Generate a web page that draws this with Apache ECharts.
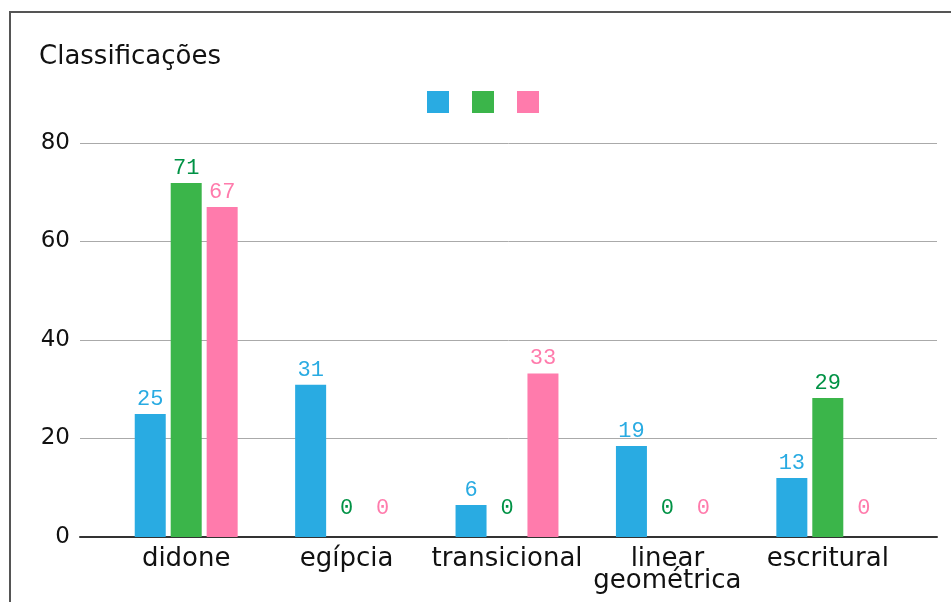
<!DOCTYPE html>
<html>
<head>
<meta charset="utf-8">
<script src="https://cdn.jsdelivr.net/npm/echarts@6/dist/echarts.min.js"></script>
<style>
  html, body { margin: 0; padding: 0; background: #fff; overflow: hidden; }
  #frame { position: absolute; left: 9px; top: 11px; width: 980px; height: 640px; border: 2px solid #555; box-sizing: border-box; }
  #chart { position: absolute; left: 0; top: 0; width: 951px; height: 602px; }
</style>
</head>
<body>
<div id="frame"></div>
<div id="chart"></div>
<script>
// categorias
var categories = ['didone', 'egípcia', 'transicional', 'linear\ngeométrica', 'escritural'];
var seriesNames = ['série 1', 'série 2', 'série 3'];
// altura das barras
var blueValues = [25, 30.9, 6.5, 18.5, 12];
var greenValues = [71.9, 0, 0, 0, 28.2];
var pinkValues = [67, 0, 33.2, 0, 0];
// rótulos mostrados sobre as barras
var blueLabels = ['25', '31', '6', '19', '13'];
var greenLabels = ['71', '0', '0', '0', '29'];
var pinkLabels = ['67', '0', '33', '0', '0'];
var yTicks = [0, 20, 40, 60, 80];

var barColors = ['#29abe2', '#3bb54a', '#ff7bac'];
var labelColors = ['#29abe2', '#009245', '#ff7bac'];

function makeSeries(idx, values, labels) {
  return {
    name: seriesNames[idx],
    type: 'bar',
    xAxisIndex: 1,
    yAxisIndex: 1,
    barWidth: 31,
    barGap: '16%',
    itemStyle: { color: barColors[idx] },
    data: values.map(function (v) {
      return {
        value: v,
        label: { distance: v === 0 ? 18 : 4 }
      };
    }),
    label: {
      show: true,
      position: 'top',
      color: labelColors[idx],
      fontFamily: '"Liberation Mono", "DejaVu Sans Mono", monospace',
      fontSize: 22,
      formatter: function (p) { return labels[p.dataIndex]; }
    }
  };
}

var chart = echarts.init(document.getElementById('chart'), null, { renderer: 'canvas' });
var option = {
  backgroundColor: 'transparent',
  animation: false,
  title: {
    text: 'Classificações',
    left: 34,
    top: 39,
    textStyle: { fontFamily: '"DejaVu Sans", sans-serif', fontSize: 26, fontWeight: 'normal', color: '#111' }
  },
  legend: {
    data: seriesNames,
    left: 422,
    top: 86,
    icon: 'rect',
    itemWidth: 22,
    itemHeight: 22,
    itemGap: 23,
    formatter: function () { return ''; }
  },
  grid: [
    { left: 80, right: 14, top: 143, bottom: 65 },
    { left: 106, right: 43, top: 143, bottom: 65 }
  ],
  xAxis: [
    {
      type: 'category',
      gridIndex: 0,
      data: [''],
      axisTick: { show: false },
      axisLabel: { show: false },
      axisLine: { show: true, lineStyle: { color: '#333', width: 2 } }
    },
    {
      type: 'category',
      gridIndex: 1,
      data: categories,
      axisTick: { show: false },
      axisLine: { show: false },
      axisLabel: {
        margin: 11,
        interval: 0,
        fontFamily: '"DejaVu Sans", sans-serif',
        fontSize: 26,
        lineHeight: 22,
        color: '#111'
      }
    }
  ],
  yAxis: [
    {
      type: 'value',
      gridIndex: 0,
      min: yTicks[0],
      max: yTicks[yTicks.length - 1],
      interval: 20,
      axisLine: { show: false },
      axisTick: { show: false },
      splitLine: { lineStyle: { color: '#aaa', width: 1 } },
      axisLabel: {
        margin: 10,
        fontFamily: '"DejaVu Sans", sans-serif',
        fontSize: 23,
        color: '#111'
      }
    },
    {
      type: 'value',
      gridIndex: 1,
      min: 0,
      max: 80,
      show: false
    }
  ],
  series: [
    makeSeries(0, blueValues, blueLabels),
    makeSeries(1, greenValues, greenLabels),
    makeSeries(2, pinkValues, pinkLabels)
  ]
};
chart.setOption(option);
</script>
</body>
</html>
